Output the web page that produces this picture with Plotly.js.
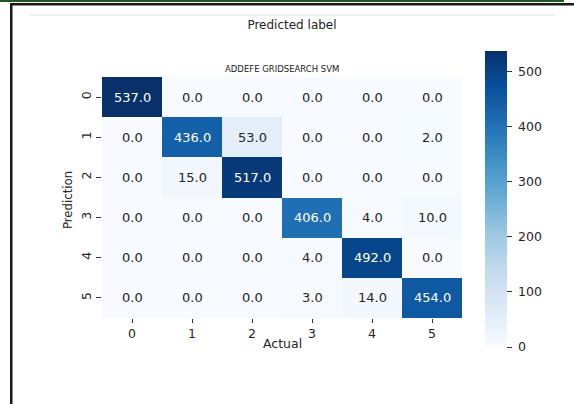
<!DOCTYPE html>
<html>
<head>
<meta charset="utf-8">
<script src="https://cdn.plot.ly/plotly-3.0.1.min.js"></script>
<style>
html,body{margin:0;padding:0;background:#fff;}
#chart{width:574px;height:404px;}
</style>
</head>
<body>
<div id="chart"></div>
<script>
// ---- data ----
const actualLabels = ['0', '1', '2', '3', '4', '5'];
const predictionLabels = ['0', '1', '2', '3', '4', '5'];
const row0 = [537, 0, 0, 0, 0, 0];
const row1 = [0, 436, 53, 0, 0, 2];
const row2 = [0, 15, 517, 0, 0, 0];
const row3 = [0, 0, 0, 406, 4, 10];
const row4 = [0, 0, 0, 4, 492, 0];
const row5 = [0, 0, 0, 3, 14, 454];
const colorbarTicks = [0, 100, 200, 300, 400, 500];
const chartTitle = 'Predicted label';
const subTitle = 'ADDEFE GRIDSEARCH SVM';
const xLabel = 'Actual';
const yLabel = 'Prediction';

const z = [row0, row1, row2, row3, row4, row5];
const zMax = Math.max(...z.flat());

// matplotlib "Blues"
const blues = [
  [0.0, '#f7fbff'], [0.125, '#deebf7'], [0.25, '#c6dbef'], [0.375, '#9ecae1'],
  [0.5, '#6baed6'], [0.625, '#4292c6'], [0.75, '#2171b5'], [0.875, '#08519c'], [1.0, '#08306b']
];

// plot area in pixels
const W = 574, H = 404;
const L = 102, R = 462, T = 77, B = 318;
const pw = R - L, ph = B - T;
const px = x => (x - L) / pw;
const py = y => (B - y) / ph;

const font = 'DejaVu Sans, Verdana, sans-serif';
const dark = '#262626';

const annotations = [];
z.forEach((row, i) => {
  row.forEach((v, j) => {
    annotations.push({
      x: actualLabels[j], y: predictionLabels[i], xref: 'x', yref: 'y',
      text: v.toFixed(1), showarrow: false,
      font: {family: font, size: 13, color: v > zMax * 0.5 ? '#ffffff' : dark}
    });
  });
});
annotations.push({
  xref: 'paper', yref: 'paper', x: 0.5, y: py(69), xanchor: 'center', yanchor: 'middle',
  text: subTitle, showarrow: false, font: {family: font, size: 8.5, color: '#222'}
});
annotations.push({
  xref: 'paper', yref: 'paper', x: 0.5, y: py(343), xanchor: 'center', yanchor: 'middle',
  text: xLabel, showarrow: false, font: {family: font, size: 12.5, color: dark}
});
annotations.push({
  xref: 'paper', yref: 'paper', x: px(67), y: py(200), xanchor: 'center', yanchor: 'middle',
  text: yLabel, showarrow: false, textangle: -90,
  font: {family: 'Liberation Sans Narrow, DejaVu Sans Condensed, sans-serif', size: 13, color: dark}
});

const shapes = [
  {type: 'rect', xref: 'paper', yref: 'paper', x0: px(0), x1: px(564), y0: py(0), y1: py(2),
   fillcolor: '#1f5a1f', line: {width: 0}},
  {type: 'rect', xref: 'paper', yref: 'paper', x0: px(10), x1: px(574), y0: py(3), y1: py(5.5),
   fillcolor: '#1a1a1a', line: {width: 0}},
  {type: 'rect', xref: 'paper', yref: 'paper', x0: px(10), x1: px(12.5), y0: py(3), y1: py(404),
   fillcolor: '#1a1a1a', line: {width: 0}},
  {type: 'line', xref: 'paper', yref: 'paper', x0: px(30), x1: px(555), y0: py(15), y1: py(15),
   line: {color: '#f0f0f0', width: 2}}
];

const trace = {
  type: 'heatmap',
  x: actualLabels, y: predictionLabels, z: z,
  zmin: 0, zmax: zMax,
  colorscale: blues,
  hoverinfo: 'none',
  colorbar: {
    x: px(485), xanchor: 'left', xref: 'paper', xpad: 0,
    y: py(199), yanchor: 'middle', yref: 'paper', ypad: 0,
    len: 296, lenmode: 'pixels',
    thickness: 22, thicknessmode: 'pixels',
    outlinewidth: 0,
    tickvals: colorbarTicks, ticktext: colorbarTicks.map(v => '\u00a0' + v),
    ticks: 'outside', ticklen: 5, tickwidth: 1, tickcolor: '#333',
    tickfont: {family: font, size: 12.5, color: dark}
  }
};

const layout = {
  width: W, height: H,
  margin: {l: L, r: W - R, t: T, b: H - B, pad: 0},
  paper_bgcolor: '#ffffff', plot_bgcolor: '#ffffff',
  title: {
    text: chartTitle, xref: 'paper', x: px(292), xanchor: 'center',
    yref: 'container', y: 1 - 25 / H, yanchor: 'middle',
    font: {family: font, size: 12, color: dark}
  },
  xaxis: {
    type: 'category', showgrid: false, zeroline: false, showline: false,
    ticks: 'outside', ticklen: 4, tickwidth: 1, tickcolor: '#333',
    tickfont: {family: font, size: 12.5, color: dark}
  },
  yaxis: {
    type: 'category', autorange: 'reversed', showgrid: false, zeroline: false, showline: false,
    ticks: 'outside', ticklen: 5, tickwidth: 1, tickcolor: '#333', tickangle: -90,
    tickfont: {family: font, size: 12.5, color: dark}
  },
  annotations: annotations,
  shapes: shapes,
  showlegend: false
};

Plotly.newPlot('chart', [trace], layout, {displayModeBar: false, staticPlot: true});
</script>
</body>
</html>
